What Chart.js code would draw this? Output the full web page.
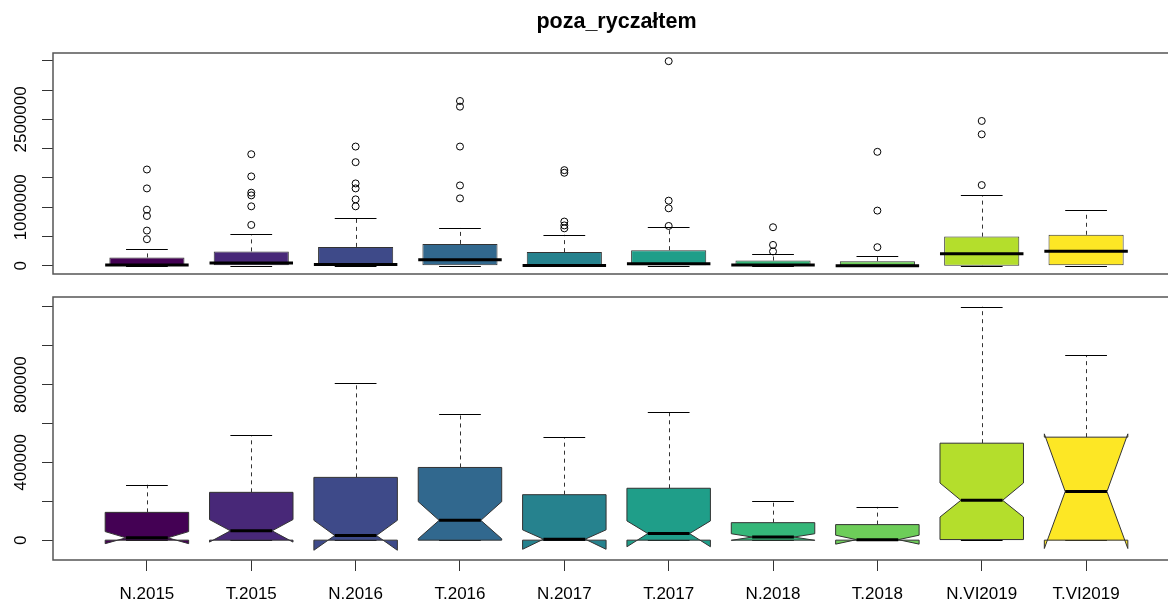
<!DOCTYPE html>
<html>
<head>
<meta charset="utf-8">
<script src="https://cdn.jsdelivr.net/npm/chart.js@4.4.0/dist/chart.umd.min.js"></script>
<style>
html, body { margin: 0; padding: 0; background: #fff; overflow: hidden; }
#wrap { position: relative; width: 1168px; height: 600px; overflow: hidden; }
#topChart { position: absolute; left: 0; top: 0; }
#bottomChart { position: absolute; left: 0; top: 280px; }
</style>
</head>
<body>
<div id="wrap">
  <canvas id="topChart" width="1190" height="290"></canvas>
  <canvas id="bottomChart" width="1190" height="320"></canvas>
</div>
<script>
// box statistics
var categories = ['N.2015', 'T.2015', 'N.2016', 'T.2016', 'N.2017', 'T.2017', 'N.2018', 'T.2018', 'N.VI2019', 'T.VI2019'];
var whiskerLow = [0, 0, 0, 0, 0, 0, 0, 0, 0, 0];
var q1 = [0, 0, 0, 0, 0, 0, 0, 0, 3000, 0];
var median = [12000, 48000, 24000, 102000, 5000, 34000, 16000, 2500, 205000, 250000];
var q3 = [143000, 246000, 323000, 374000, 234000, 267000, 90000, 80000, 499000, 530000];
var whiskerHigh = [285000, 540000, 810000, 648000, 530000, 660000, 200000, 171000, 1201000, 952000];
var notchLow = [-18000, -10000, -52000, 7000, -47000, -34000, -1000, -20500, 119000, -43000];
var notchHigh = [44000, 106000, 102000, 198000, 53000, 99000, 33000, 25500, 294000, 547000];

// outliers (top panel only)
var outliers = [
  [1645000, 1322000, 959000, 851000, 602000, 454000],
  [1906000, 1527000, 1249000, 1203000, 1016000, 698000],
  [2037000, 1770000, 1407000, 1322000, 1135000, 1016000],
  [2815000, 2718000, 2037000, 1373000, 1152000],
  [1634000, 1589000, 756000, 690000, 640000],
  [3495000, 1113000, 982000, 681000],
  [659000, 357000, 245000],
  [1947000, 943000, 318000],
  [2474000, 2246000, 1379000],
  []
];

var topTicks = [0, 500000, 1000000, 1500000, 2000000, 2500000, 3000000, 3500000];
var topTickLabels = ['0', '', '1000000', '', '', '2500000', '', ''];
var bottomTicks = [0, 200000, 400000, 600000, 800000, 1000000, 1200000];
var bottomTickLabels = ['0', '', '400000', '', '800000', '', ''];

var colors = ['#440154', '#482878', '#3E4A89', '#31688E', '#26828E', '#1F9E89', '#35B779', '#6DCD59', '#B4DE2C', '#FDE725'];

var fontFamily = "'Liberation Sans', Arial, sans-serif";
var boxWidth = 0.8;

// R style axis range: data range plus 4% each side
function rRange(lo, hi) {
  var d = (hi - lo) * 0.04;
  return [lo - d, hi + d];
}
var allOut = [].concat.apply([], outliers);
var topRange = rRange(Math.min.apply(null, whiskerLow), Math.max.apply(null, allOut.concat(whiskerHigh)));
var bottomRange = rRange(Math.min.apply(null, whiskerLow.concat(notchLow)), Math.max.apply(null, whiskerHigh.concat(notchHigh)));

var positions = categories.map(function (c, i) { return i + 1; });

// whiskers, caps, medians, and notched boxes
var boxes = {
  id: 'boxes',
  afterDatasetsDraw: function (chart, args, opts) {
    var ctx = chart.ctx, x = chart.scales.x, y = chart.scales.y;
    ctx.save();
    for (var i = 0; i < categories.length; i++) {
      var cx = x.getPixelForValue(positions[i]);
      var hw = x.getPixelForValue(positions[i] + boxWidth / 2) - cx;
      var yLo = y.getPixelForValue(whiskerLow[i]);
      var yQ1 = y.getPixelForValue(q1[i]);
      var yMed = y.getPixelForValue(median[i]);
      var yQ3 = y.getPixelForValue(q3[i]);
      var yHi = y.getPixelForValue(whiskerHigh[i]);

      // dashed whiskers
      ctx.strokeStyle = '#333';
      ctx.lineWidth = 1;
      ctx.setLineDash([4, 4]);
      ctx.beginPath();
      ctx.moveTo(Math.round(cx) + 0.5, yQ3);
      ctx.lineTo(Math.round(cx) + 0.5, yHi);
      ctx.moveTo(Math.round(cx) + 0.5, yQ1);
      ctx.lineTo(Math.round(cx) + 0.5, yLo);
      ctx.stroke();
      ctx.setLineDash([]);

      // caps
      ctx.strokeStyle = '#000';
      ctx.beginPath();
      ctx.moveTo(cx - hw / 2, Math.round(yHi) + 0.5);
      ctx.lineTo(cx + hw / 2, Math.round(yHi) + 0.5);
      ctx.moveTo(cx - hw / 2, Math.round(yLo) + 0.5);
      ctx.lineTo(cx + hw / 2, Math.round(yLo) + 0.5);
      ctx.stroke();

      var mw = hw;
      if (opts.notched) {
        var nf = 0.5;
        var yNl = y.getPixelForValue(notchLow[i]);
        var yNh = y.getPixelForValue(notchHigh[i]);
        ctx.beginPath();
        ctx.moveTo(cx - hw, yQ1);
        ctx.lineTo(cx + hw, yQ1);
        ctx.lineTo(cx + hw, yNl);
        ctx.lineTo(cx + hw * nf, yMed);
        ctx.lineTo(cx + hw, yNh);
        ctx.lineTo(cx + hw, yQ3);
        ctx.lineTo(cx - hw, yQ3);
        ctx.lineTo(cx - hw, yNh);
        ctx.lineTo(cx - hw * nf, yMed);
        ctx.lineTo(cx - hw, yNl);
        ctx.closePath();
        ctx.fillStyle = colors[i];
        ctx.fill();
        ctx.strokeStyle = '#333';
        ctx.lineWidth = 1;
        ctx.stroke();
        mw = hw * nf;
      }

      // median
      ctx.strokeStyle = '#000';
      ctx.lineWidth = 3;
      ctx.beginPath();
      ctx.moveTo(cx - mw, yMed);
      ctx.lineTo(cx + mw, yMed);
      ctx.stroke();
    }
    ctx.restore();
  }
};

// plot frame and rotated y labels
var frame = {
  id: 'frame',
  afterDraw: function (chart, args, opts) {
    var a = chart.chartArea, ctx = chart.ctx, ys = chart.scales.y;
    ctx.save();
    ctx.strokeStyle = '#555';
    ctx.lineWidth = 1.5;
    ctx.strokeRect(a.left, a.top, a.right - a.left, a.bottom - a.top);
    ctx.fillStyle = '#000';
    ctx.font = '17px ' + fontFamily;
    ctx.textAlign = 'center';
    ctx.textBaseline = 'middle';
    opts.ticks.forEach(function (v, k) {
      if (!opts.labels[k]) return;
      ctx.save();
      ctx.translate(21.5, ys.getPixelForValue(v));
      ctx.rotate(-Math.PI / 2);
      ctx.fillText(opts.labels[k], 0, 0);
      ctx.restore();
    });
    ctx.restore();
  }
};

function yScale(range, ticks) {
  return {
    type: 'linear',
    min: range[0],
    max: range[1],
    afterBuildTicks: function (s) { s.ticks = ticks.map(function (v) { return { value: v }; }); },
    afterFit: function (s) { s.width = 53; },
    ticks: { display: false },
    grid: { drawOnChartArea: false, drawTicks: true, tickLength: 11, color: '#333', lineWidth: 1 },
    border: { display: false }
  };
}

var outlierPoints = [];
outliers.forEach(function (list, i) {
  list.forEach(function (v) { outlierPoints.push({ x: positions[i], y: v }); });
});

new Chart(document.getElementById('topChart'), {
  type: 'bar',
  data: {
    datasets: [{
      type: 'scatter',
      data: outlierPoints,
      pointRadius: 3.5,
      pointHoverRadius: 3.5,
      borderColor: '#000',
      backgroundColor: 'rgba(0,0,0,0)',
      borderWidth: 1,
      order: 0
    }, {
      type: 'bar',
      data: positions.map(function (p, i) { return { x: p, y: [q1[i], q3[i]] }; }),
      backgroundColor: colors,
      borderColor: '#333',
      borderWidth: 1,
      borderSkipped: false,
      barPercentage: boxWidth,
      categoryPercentage: 1,
      order: 1
    }]
  },
  options: {
    responsive: false,
    animation: false,
    events: [],
    layout: { padding: { top: 0, left: 0, right: 10, bottom: 16 } },
    plugins: {
      legend: { display: false },
      tooltip: { enabled: false },
      title: {
        display: true,
        text: 'poza_ryczałtem',
        fullSize: false,
        color: '#000',
        font: { family: fontFamily, size: 21.5, weight: 'bold' },
        padding: { top: 9, bottom: 18.2 }
      },
      boxes: { notched: false },
      frame: { ticks: topTicks, labels: topTickLabels }
    },
    scales: {
      x: { type: 'linear', min: 0.1, max: 10.9, offset: false, display: false, grid: { offset: false } },
      y: yScale(topRange, topTicks)
    }
  },
  plugins: [boxes, frame]
});

new Chart(document.getElementById('bottomChart'), {
  type: 'bar',
  data: { datasets: [] },
  options: {
    responsive: false,
    animation: false,
    events: [],
    layout: { padding: { top: 17, left: 0, right: 10, bottom: 0 } },
    plugins: {
      legend: { display: false },
      tooltip: { enabled: false },
      boxes: { notched: true },
      frame: { ticks: bottomTicks, labels: bottomTickLabels }
    },
    scales: {
      x: {
        type: 'linear', min: 0.1, max: 10.9, offset: false,
        afterBuildTicks: function (s) { s.ticks = positions.map(function (v) { return { value: v }; }); },
        afterFit: function (s) { s.height = 40; },
        ticks: {
          autoSkip: false, maxRotation: 0, minRotation: 0, padding: 13,
          color: '#000', font: { family: fontFamily, size: 17 },
          callback: function (v) { return categories[v - 1]; }
        },
        grid: { offset: false, drawOnChartArea: false, drawTicks: true, tickLength: 11, color: '#333', lineWidth: 1 },
        border: { display: false }
      },
      y: yScale(bottomRange, bottomTicks)
    }
  },
  plugins: [boxes, frame]
});
</script>
</body>
</html>
